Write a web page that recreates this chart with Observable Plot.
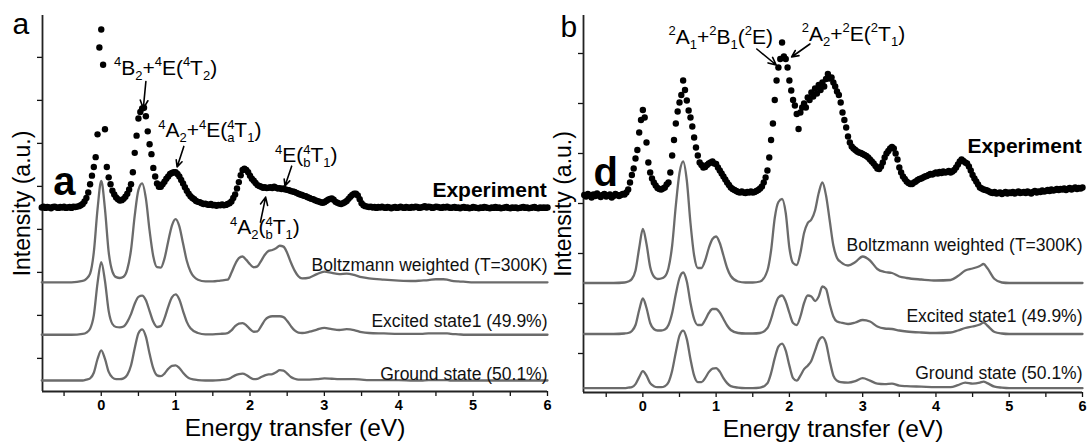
<!DOCTYPE html>
<html><head><meta charset="utf-8">
<script src="https://cdn.jsdelivr.net/npm/d3@7"></script>
<script src="https://cdn.jsdelivr.net/npm/@observablehq/plot@0.6"></script>
<style>
body{margin:0;background:#fff;}
#wrap{position:relative;width:1087px;height:442px;overflow:hidden;background:#fff;}
#wrap svg{position:absolute;top:0;}
</style></head><body><div id="wrap"></div>
<script>
// ---------- experiment (RIXS) : energy grid start/step, intensities in a.u. ----------
const expStart = -0.8, expStep = 0.025;
const expA = [
4.28,4.3,4.27,4.29,4.28,4.26,4.29,4.3,4.28,4.27,4.29,4.28,4.3,4.27,4.28,4.29,4.27,4.3,4.29,4.3,
4.31,4.33,4.36,4.42,4.5,4.63,4.82,5.02,5.22,5.45,5.98,8.0,8.42,7.6,6.1,5.22,4.98,4.82,4.67,4.58,
4.51,4.47,4.44,4.45,4.48,4.53,4.6,4.7,4.82,5.1,5.55,5.95,6.35,6.5,6.58,6.6,6.4,6.05,5.75,5.52,
5.2,5.0,4.84,4.76,4.76,4.82,4.88,4.95,5.0,5.06,5.08,5.1,5.1,5.06,5.0,4.92,4.84,4.75,4.67,4.6,
4.54,4.5,4.47,4.43,4.41,4.4,4.38,4.36,4.37,4.35,4.34,4.36,4.33,4.34,4.32,4.34,4.33,4.35,4.33,4.34,
4.36,4.38,4.42,4.5,4.58,4.72,4.87,5.03,5.15,5.18,5.15,5.1,5.02,4.95,4.9,4.85,4.8,4.78,4.76,4.74,
4.75,4.73,4.74,4.75,4.73,4.76,4.74,4.72,4.73,4.71,4.72,4.7,4.69,4.68,4.66,4.65,4.64,4.62,4.6,4.58,
4.57,4.55,4.54,4.52,4.5,4.48,4.47,4.45,4.43,4.42,4.4,4.39,4.4,4.43,4.46,4.48,4.49,4.46,4.41,4.39,
4.37,4.36,4.38,4.4,4.43,4.48,4.53,4.57,4.6,4.6,4.56,4.47,4.38,4.33,4.31,4.3,4.29,4.3,4.28,4.29,
4.27,4.29,4.28,4.3,4.28,4.27,4.29,4.28,4.26,4.28,4.29,4.27,4.28,4.3,4.28,4.27,4.29,4.28,4.27,4.29,
4.28,4.3,4.29,4.27,4.28,4.29,4.31,4.28,4.3,4.29,4.27,4.28,4.3,4.29,4.28,4.27,4.29,4.28,4.3,4.28,
4.27,4.28,4.29,4.27,4.28,4.26,4.28,4.29,4.27,4.28,4.26,4.27,4.29,4.28,4.27,4.26,4.28,4.27,4.29,4.28,
4.27,4.26,4.28,4.27,4.29,4.27,4.28,4.26,4.27,4.28,4.29,4.27,4.26,4.28,4.27,4.28,4.26,4.27,4.28,4.29,
4.27,4.28,4.26,4.27,4.28,4.29,4.27,4.26,4.28,4.27,4.28,4.27,4.28];
const expB = [
3.95,3.92,3.97,3.94,3.9,3.96,3.93,3.98,3.94,3.91,3.95,3.97,3.92,3.94,3.96,3.9,3.93,3.97,3.95,3.93,
3.95,3.97,3.96,4.0,4.06,4.2,4.35,4.48,4.68,4.85,5.2,5.45,5.65,5.5,5.0,4.6,4.4,4.28,4.2,4.14,
4.09,4.07,4.06,4.08,4.1,4.16,4.2,4.4,4.74,5.05,5.38,5.62,5.8,5.95,6.24,6.05,5.84,5.64,5.5,5.32,
5.1,4.9,4.74,4.6,4.55,4.5,4.51,4.55,4.58,4.6,4.62,4.58,4.57,4.5,4.44,4.38,4.32,4.26,4.2,4.15,
4.1,4.07,4.05,4.03,4.01,4.0,4.02,4.0,3.99,4.01,4.0,4.02,4.0,4.01,4.03,4.05,4.08,4.12,4.2,4.3,
4.44,4.7,5.05,5.38,5.85,6.24,6.5,6.67,7.0,6.72,6.67,6.5,6.24,6.04,5.85,5.74,5.57,5.27,5.6,5.7,
5.78,5.7,5.9,5.85,6.0,5.92,6.08,5.98,6.15,6.05,6.2,6.12,6.27,6.37,6.28,6.3,6.2,6.12,6.02,5.95,
5.8,5.6,5.45,5.3,5.12,5.0,4.92,4.88,4.85,4.82,4.8,4.79,4.77,4.75,4.73,4.7,4.66,4.62,4.58,4.53,
4.48,4.47,4.52,4.6,4.7,4.78,4.83,4.88,4.91,4.88,4.78,4.66,4.5,4.4,4.32,4.27,4.22,4.19,4.17,4.17,
4.2,4.22,4.25,4.27,4.28,4.3,4.32,4.33,4.35,4.37,4.36,4.38,4.4,4.38,4.41,4.39,4.42,4.4,4.41,4.43,
4.4,4.42,4.45,4.5,4.56,4.62,4.66,4.63,4.6,4.58,4.52,4.44,4.35,4.28,4.22,4.16,4.1,4.08,4.06,4.05,
4.04,4.02,4.0,3.99,4.01,3.98,3.99,4.0,3.97,3.99,4.01,3.98,4.0,3.99,4.01,3.98,4.0,4.02,3.99,4.0,
4.01,3.99,4.02,4.0,3.98,4.01,4.03,4.0,4.02,4.01,4.04,4.02,4.03,4.05,4.03,4.06,4.04,4.05,4.07,4.05,
4.07,4.06,4.08,4.05,4.07,4.09,4.06,4.08,4.1,4.07,4.09,4.08,4.1];

// ---------- calculated spectra : energy grid and intensities above each baseline ----------
const theoryE = [-0.8,-0.4,-0.25,-0.2,-0.15,-0.1,-0.05,0,
0.05,0.1,0.15,0.2,0.25,0.3,0.35,0.4,0.45,0.5,0.55,0.6,0.65,0.7,0.75,0.8,0.85,0.9,0.95,1,1.05,1.1,1.15,1.2,
1.3,1.4,1.5,1.6,1.7,
1.75,1.8,1.85,1.9,1.95,2,2.05,2.1,2.15,2.2,2.25,2.3,2.35,2.4,2.45,2.5,2.55,2.6,2.65,2.7,
2.8,2.9,3,3.1,3.2,3.3,3.4,3.5,3.6,
3.8,4,4.2,4.3,4.4,4.5,4.6,4.65,4.7,4.8,4.9,5,5.5,6];
const boltzA = [0,0,0.03,0.08,0.2,0.7,1.7,2.36,
1.7,0.7,0.25,0.12,0.1,0.13,0.3,0.75,1.55,2.15,2.3,1.95,1.2,0.6,0.35,0.34,0.55,0.95,1.32,1.47,1.3,0.9,0.5,0.25,
0.06,0.02,0.02,0.04,0.06,
0.22,0.42,0.56,0.6,0.52,0.42,0.35,0.37,0.5,0.64,0.73,0.75,0.79,0.85,0.83,0.68,0.46,0.27,0.14,0.09,
0.11,0.19,0.25,0.22,0.19,0.2,0.17,0.12,0.09,
0.06,0.04,0.03,0.04,0.05,0.07,0.07,0.06,0.04,0.02,0.01,0,0,0];
const excA = [0,0,0.02,0.05,0.14,0.45,1.2,1.69,
1.25,0.55,0.25,0.18,0.17,0.19,0.3,0.48,0.72,0.88,0.91,0.8,0.55,0.3,0.18,0.2,0.38,0.65,0.87,0.94,0.82,0.55,0.3,0.15,
0.04,0.01,0.01,0.02,0.04,
0.1,0.2,0.26,0.27,0.22,0.13,0.07,0.08,0.2,0.34,0.41,0.43,0.43,0.43,0.41,0.32,0.2,0.1,0.05,0.04,
0.07,0.12,0.16,0.13,0.11,0.13,0.11,0.06,0.04,
0.03,0.02,0.02,0.02,0.03,0.03,0.03,0.03,0.02,0.01,0,0,0,0];
const gndA = [0,0,0,0.02,0.05,0.18,0.5,0.7,
0.5,0.2,0.07,0.03,0.03,0.05,0.13,0.35,0.75,1.1,1.19,1.02,0.62,0.28,0.12,0.1,0.16,0.27,0.34,0.35,0.29,0.18,0.09,0.04,
0.01,0,0,0.01,0.03,
0.07,0.12,0.15,0.16,0.13,0.07,0.03,0.04,0.08,0.12,0.14,0.15,0.19,0.24,0.23,0.16,0.08,0.04,0.02,0.02,
0.02,0.03,0.05,0.04,0.03,0.03,0.03,0.02,0.01,
0.01,0.01,0,0,0.01,0.01,0.01,0.01,0,0,0,0,0,0];
const boltzB = [0,0,0.01,0.03,0.08,0.25,0.7,1.08,
0.78,0.32,0.13,0.08,0.09,0.13,0.3,0.75,1.55,2.2,2.43,2.05,1.2,0.55,0.3,0.3,0.45,0.7,0.88,0.93,0.8,0.55,0.3,0.14,
0.03,0.01,0.01,0.03,0.25,
0.65,1.3,1.62,1.68,1.4,0.7,0.4,0.36,0.6,1.0,1.2,1.27,1.45,1.8,2.01,1.75,1.25,0.75,0.5,0.42,
0.35,0.42,0.53,0.45,0.28,0.22,0.2,0.13,0.1,
0.07,0.05,0.06,0.14,0.25,0.29,0.34,0.38,0.3,0.08,0.01,0,0,0];
const excB = [0,0,0.01,0.02,0.06,0.18,0.48,0.71,
0.52,0.22,0.1,0.07,0.07,0.09,0.18,0.42,0.8,1.12,1.23,1.05,0.62,0.3,0.18,0.18,0.28,0.42,0.5,0.5,0.43,0.3,0.17,0.08,
0.02,0.01,0.01,0.02,0.12,
0.3,0.55,0.73,0.77,0.65,0.42,0.22,0.18,0.35,0.62,0.77,0.75,0.66,0.75,0.95,0.9,0.6,0.35,0.25,0.23,
0.2,0.23,0.28,0.25,0.15,0.11,0.1,0.07,0.05,
0.03,0.02,0.03,0.07,0.12,0.15,0.19,0.23,0.17,0.04,0.01,0,0,0];
const gndB = [0,0,0,0.01,0.02,0.08,0.22,0.34,
0.25,0.1,0.04,0.02,0.02,0.04,0.12,0.35,0.72,1.05,1.15,0.98,0.58,0.25,0.12,0.12,0.2,0.32,0.39,0.4,0.33,0.2,0.1,0.04,
0.01,0,0,0.01,0.1,
0.3,0.6,0.83,0.89,0.75,0.45,0.2,0.15,0.25,0.38,0.45,0.55,0.75,0.95,1.02,0.9,0.55,0.25,0.15,0.12,
0.11,0.14,0.2,0.15,0.09,0.08,0.09,0.05,0.04,
0.03,0.02,0.02,0.06,0.11,0.09,0.11,0.13,0.1,0.03,0.01,0,0,0];

// vertical offsets (stacking) of the calculated spectra
const offsetsA = [2.54, 1.32, 0.256];
const offsetsB = [2.19, 1.17, 0.087];
const curveNames = ["Boltzmann weighted (T=300K)", "Excited state1 (49.9%)", "Ground state (50.1%)"];
const labelYA = [2.93, 1.63, 0.4];
const labelYB = [2.94, 1.52, 0.38];

// axes
const xTickLabels = [0,1,2,3,4,5,6];
const xMinorTicks = [-0.5,0.5,1.5,2.5,3.5,4.5,5.5];
const yTicksA = [0.77,1.77,2.77,3.77,4.77,5.77,6.77,7.77];
const yTicksB = [0.78,1.78,2.78,3.78,4.78,5.78,6.78];

// annotations (energy, intensity) : text start and arrow tail/tip
const annotA = [
  {text:"^4B_2+^4E(^4T_2)", e:0.17, v:7.52},
  {text:"^4A_2+^4E(_a^4T_1)", e:0.765, v:6.07},
  {text:"^4E(_b^4T_1)", e:2.335, v:5.49},
  {text:"^4A_2(_b^4T_1)", e:1.73, v:3.82}
];
const arrowsA = [
  {e1:0.60, v1:7.21, e2:0.565, v2:6.58},
  {e1:1.11, v1:5.70, e2:1.02, v2:5.22},
  {e1:2.56, v1:5.24, e2:2.47, v2:4.78},
  {e1:2.14, v1:3.94, e2:2.21, v2:4.52}
];
const annotB = [
  {text:"^2A_1+^2B_1(^2E)", e:0.35, v:7.11},
  {text:"^2A_2+^2E(^2T_1)", e:2.17, v:7.17}
];
const arrowsB = [
  {e1:1.555, v1:6.87, e2:1.82, v2:6.55},
  {e1:2.28, v1:6.97, e2:2.03, v2:6.71}
];

const FONT = "'Liberation Sans', Arial, Helvetica, sans-serif";

function build(o) {
  const expData = o.exp.map((v, i) => ({e: +(expStart + i * expStep).toFixed(3), v}));
  const curveData = [];
  o.curves.forEach((vals, k) => vals.forEach((v, i) => curveData.push({e: theoryE[i], v: v + o.offsets[k], name: curveNames[k]})));
  const labels = curveNames.map((n, k) => ({n, e: 6.0, v: o.labelY[k]}));
  return Plot.plot({
    width: o.width, height: 442,
    marginLeft: o.ml, marginRight: o.mr, marginTop: 15, marginBottom: o.mb,
    x: {domain: o.xdom},
    y: {domain: o.ydom},
    style: {fontFamily: FONT, background: "transparent", overflow: "visible", color: "#111"},
    marks: [
      Plot.axisX({ticks: xTickLabels, tickSize: 5, tickPadding: 3, tickFormat: d => String(d),
        fontSize: 14.5, fontWeight: "bold", label: null, strokeWidth: 1.3, fill: "#000"}),
      Plot.axisX({ticks: xMinorTicks, tickSize: 5, fill: "none", label: null, strokeWidth: 1.3}),
      Plot.axisY({ticks: o.yTicks, tickSize: 5, fill: "none", label: null, strokeWidth: 1.3}),
      Plot.ruleY([o.ydom[0]], {stroke: "#222", strokeWidth: 1.8}),
      Plot.ruleX([o.xdom[0]], {stroke: "#222", strokeWidth: 1.8}),
      Plot.line(curveData, {x: "e", y: "v", z: "name", stroke: "#6b6b6b", strokeWidth: 2.3, curve: "monotone-x"}),
      Plot.dot(expData, {x: "e", y: "v", r: 3.2, fill: "#000", stroke: null}),
      Plot.text(labels, {x: "e", y: "v", text: "n", textAnchor: "end", lineAnchor: "middle", fontSize: 17.5, fill: "#111"}),
      Plot.text(["Experiment"], {x: [5.99], y: [o.expLabelY], text: d => d, textAnchor: "end", lineAnchor: "middle", fontSize: 21, fontWeight: "bold", fill: "#000"}),
      Plot.text([o.inner], {x: [o.inner.e], y: [o.inner.v], text: d => d.t, textAnchor: "start", lineAnchor: "middle", fontSize: 40, fontWeight: "bold", fill: "#000"}),
      Plot.arrow(o.arrows, {x1: "e1", y1: "v1", x2: "e2", y2: "v2", stroke: "#000", strokeWidth: 1.6, headLength: 9, headAngle: 50}),
      Plot.text(o.annot, {x: "e", y: "v", text: "text", textAnchor: "start", lineAnchor: "middle", fontSize: 21, fill: "#000"}),
      Plot.text([o.letter], {frameAnchor: "top-left", text: d => d, textAnchor: "start", lineAnchor: "middle", dx: o.letterDx, dy: o.letterDy, fontSize: 30, fill: "#000"}),
      Plot.text(["Energy transfer (eV)"], {frameAnchor: "bottom", text: d => d, textAnchor: "middle", lineAnchor: "middle", dy: 37, fontSize: 24.5, fill: "#000"}),
      Plot.text(["Intensity (a.u.)"], {frameAnchor: "left", text: d => d, textAnchor: "middle", lineAnchor: "middle", rotate: -90, dx: -20, fontSize: 23, fill: "#000"})
    ]
  });
}

function richify(svg) {
  const ns = "http://www.w3.org/2000/svg";
  svg.querySelectorAll("text").forEach(t => {
    const s = t.textContent;
    if (!/[\^_]/.test(s) || t.querySelector("tspan")) return;
    const fs = parseFloat(t.getAttribute("font-size")) || 21;
    t.textContent = "";
    let level = 0, i = 0, prevSub = null;
    while (i < s.length) {
      const c = s[i];
      if ((c === "^" || c === "_") && i + 1 < s.length) {
        const target = c === "^" ? -0.4 * fs : 0.24 * fs;
        const ts = document.createElementNS(ns, "tspan");
        ts.setAttribute("font-size", (0.62 * fs).toFixed(1));
        ts.setAttribute("dy", (target - level).toFixed(2));
        level = target;
        ts.textContent = s[i + 1];
        t.appendChild(ts);
        if (c === "^" && prevSub) ts.setAttribute("dx", (-prevSub.getComputedTextLength()).toFixed(2));
        prevSub = c === "_" ? ts : null;
        i += 2;
      } else {
        let j = i;
        while (j < s.length && s[j] !== "^" && s[j] !== "_") j++;
        const ts = document.createElementNS(ns, "tspan");
        ts.setAttribute("dy", (-level).toFixed(2));
        level = 0;
        ts.textContent = s.slice(i, j);
        t.appendChild(ts);
        prevSub = null;
        i = j;
      }
    }
  });
}

const wrap = document.getElementById("wrap");
const pa = build({width: 550, ml: 42, mr: 3, mb: 51, xdom: [-0.79, 6], ydom: [0, 8.744], yTicks: yTicksA,
  exp: expA, curves: [boltzA, excA, gndA], offsets: offsetsA, labelY: labelYA, expLabelY: 4.68,
  inner: {t: "a", e: -0.644, v: 4.86}, annot: annotA, arrows: arrowsA, letter: "a", letterDx: -30, letterDy: 8.4});
const pb = build({width: 537, ml: 33, mr: 5, mb: 50, xdom: [-0.81, 6], ydom: [0, 7.54], yTicks: yTicksB,
  exp: expB, curves: [boltzB, excB, gndB], offsets: offsetsB, labelY: labelYB, expLabelY: 4.93,
  inner: {t: "d", e: -0.673, v: 4.38}, annot: annotB, arrows: arrowsB, letter: "b", letterDx: -23, letterDy: 11.4});
pa.style.left = "0px";
pb.style.left = "550px";
wrap.appendChild(pa);
wrap.appendChild(pb);
richify(pa);
richify(pb);
</script></body></html>
